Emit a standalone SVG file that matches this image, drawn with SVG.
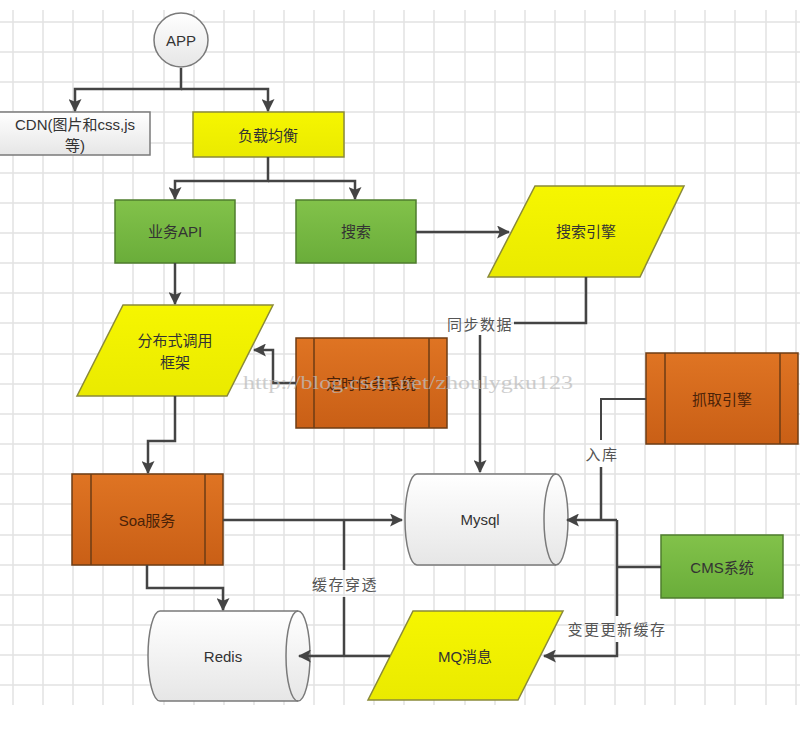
<svg xmlns="http://www.w3.org/2000/svg" width="800" height="747" viewBox="0 0 800 747">
<defs>
<linearGradient id="gGray" x1="0" y1="0" x2="0" y2="1"><stop offset="0" stop-color="#ffffff"/><stop offset="1" stop-color="#e6e6e6"/></linearGradient>
<linearGradient id="gYel" x1="0" y1="0" x2="0" y2="1"><stop offset="0" stop-color="#f6f600"/><stop offset="1" stop-color="#eaea00"/></linearGradient>
<linearGradient id="gGrn" x1="0" y1="0" x2="0" y2="1"><stop offset="0" stop-color="#82c24a"/><stop offset="1" stop-color="#6aad3a"/></linearGradient>
<linearGradient id="gOr" x1="0" y1="0" x2="0" y2="1"><stop offset="0" stop-color="#df7423"/><stop offset="1" stop-color="#c95f16"/></linearGradient>
<marker id="arr" viewBox="0 0 12 12" refX="11" refY="6" markerWidth="13" markerHeight="13" markerUnits="userSpaceOnUse" orient="auto">
<path d="M0,0 L12,6 L0,12 L2.5,6 Z" fill="#444"/>
</marker>
</defs>
<style>
.grid{stroke:#e2e2e2;stroke-width:1.5;fill:none}
.gray{fill:url(#gGray);stroke:#7a7a7a;stroke-width:1.5}
.yel{fill:url(#gYel);stroke:#8a8a3a;stroke-width:1.5}
.grn{fill:url(#gGrn);stroke:#4f7d2e;stroke-width:1.5}
.org{fill:url(#gOr);stroke:#6e3c14;stroke-width:1.5}
.inner{stroke:#6e3c14;stroke-width:1.5;fill:none}
.t{font-family:"Liberation Sans","Noto Sans CJK SC",sans-serif;font-size:15px;fill:#333;text-anchor:middle;dominant-baseline:central}
.to{font-family:"Liberation Sans","Noto Sans CJK SC",sans-serif;font-size:15px;fill:#4a2208;text-anchor:middle;dominant-baseline:central}
.lbl{font-family:"Noto Sans CJK SC",sans-serif;font-size:15px;fill:#555;text-anchor:middle;dominant-baseline:central;letter-spacing:1.5px}
.c{stroke:#444;stroke-width:2.5;fill:none}
.ca{stroke:#444;stroke-width:2.5;fill:none;marker-end:url(#arr)}
.wm{font-family:"Liberation Serif","DejaVu Serif",serif;font-size:19px;fill:#bdbdbd;opacity:0.75}
</style>
<rect x="0" y="0" width="800" height="747" fill="#ffffff"/>
<g id="grid" class="grid">
<path d="M13,10V705M43,10V705M73,10V705M103,10V705M133,10V705M164,10V705M194,10V705M224,10V705M254,10V705M284,10V705M314,10V705M344,10V705M374,10V705M404,10V705M434,10V705M465,10V705M495,10V705M525,10V705M555,10V705M585,10V705M615,10V705M645,10V705M675,10V705M705,10V705M735,10V705M766,10V705M796,10V705"/>
<path d="M0,22H800M0,52H800M0,82H800M0,112H800M0,143H800M0,173H800M0,203H800M0,233H800M0,263H800M0,293H800M0,323H800M0,354H800M0,384H800M0,414H800M0,444H800M0,474H800M0,504H800M0,535H800M0,565H800M0,595H800M0,625H800M0,655H800M0,685H800"/>
</g>
<g id="app"><circle class="gray" cx="181" cy="40" r="27"/><text class="t" x="181" y="40">APP</text></g>
<g id="cdn"><rect class="gray" x="-2" y="112" width="152" height="43"/><text class="t" x="75" y="124">CDN(图片和css,js</text><text class="t" x="75" y="145">等)</text></g>
<g id="lb"><rect class="yel" x="193" y="112" width="151" height="45"/><text class="t" x="268" y="135">负载均衡</text></g>
<g id="api"><rect class="grn" x="115" y="200" width="120" height="63"/><text class="t" x="175" y="231">业务API</text></g>
<g id="search"><rect class="grn" x="296" y="200" width="120" height="63"/><text class="t" x="356" y="231">搜索</text></g>
<g id="engine"><polygon class="yel" points="535,186 684,186 640,277 488,277"/><text class="t" x="586" y="231">搜索引擎</text></g>
<g id="rpc"><polygon class="yel" points="123,305 273,305 227,396 77,396"/><text class="t" x="175" y="340">分布式调用</text><text class="t" x="175" y="362">框架</text></g>
<g id="timer"><rect class="org" x="296" y="338" width="151" height="90"/><path class="inner" d="M314,338V428M429,338V428"/><text class="to" x="371" y="383">定时任务系统</text></g>
<g id="crawler"><rect class="org" x="646" y="353" width="152" height="91"/><path class="inner" d="M665,353V444M780,353V444"/><text class="to" x="722" y="399">抓取引擎</text></g>
<g id="soa"><rect class="org" x="72" y="474" width="151" height="91"/><path class="inner" d="M91,474V565M205,474V565"/><text class="to" x="147" y="520">Soa服务</text></g>
<g id="mysql"><path class="gray" d="M417,474H556A12,45.5 0 0 1 556,565H417A12,45.5 0 0 1 417,474Z"/><path class="gray" style="fill:none" d="M556,474A12,45.5 0 0 0 556,565"/><text class="t" x="480" y="519">Mysql</text></g>
<g id="cms"><rect class="grn" x="661" y="535" width="122" height="63"/><text class="t" x="722" y="567">CMS系统</text></g>
<g id="redis"><path class="gray" d="M160,611H298A12,45 0 0 1 298,701H160A12,45 0 0 1 160,611Z"/><path class="gray" style="fill:none" d="M298,611A12,45 0 0 0 298,701"/><text class="t" x="223" y="656">Redis</text></g>
<g id="mq"><polygon class="yel" points="413,611 563,611 518,700 368,700"/><text class="t" x="465" y="656">MQ消息</text></g>
<g id="connectors">
<path class="ca" d="M181,68V89H75V111"/>
<path class="ca" d="M181,89H268V111"/>
<path class="ca" d="M268,157V181H175V199"/>
<path class="ca" d="M268,181H355V199"/>
<path class="ca" d="M416,232H509"/>
<path class="c" d="M586,277V323H514"/>
<path class="ca" d="M480,335V472"/>
<path class="ca" d="M175,263V304"/>
<path class="ca" d="M175,396V441H148V473"/>
<path class="ca" d="M296,383H273V350H254"/>
<path class="ca" d="M223,520H402"/>
<path class="ca" d="M147,565V588H223V610"/>
<path class="c" d="M344,520V570"/>
<path class="c" d="M344,597V656"/>
<path class="ca" d="M390,656H299"/>
<path class="c" style="stroke-width:2" d="M646,399H601V440"/>
<path class="c" d="M601,467V520"/>
<path class="ca" d="M617,520H567"/>
<path class="c" d="M661,567H617"/>
<path class="c" d="M617,520V616"/>
<path class="ca" d="M617,642V656H544"/>
</g>
<g id="labels">
<text class="lbl" x="480" y="323">同步数据</text>
<text class="lbl" x="602" y="453">入库</text>
<text class="lbl" x="345" y="583">缓存穿透</text>
<text class="lbl" x="617" y="628">变更更新缓存</text>
</g>
<text class="wm" x="243" y="389" textLength="330" lengthAdjust="spacingAndGlyphs">http://blog.csdn.net/zhoulygku123</text>
</svg>
